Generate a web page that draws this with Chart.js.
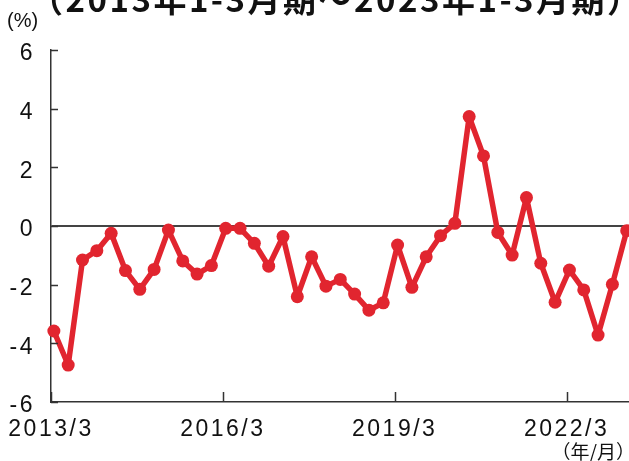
<!DOCTYPE html>
<html>
<head>
<meta charset="utf-8">
<script src="https://cdn.jsdelivr.net/npm/chart.js@4/dist/chart.umd.min.js"></script>
<style>
  body { margin: 0; background: #fff; }
  canvas { display: block; }
</style>
</head>
<body>
<canvas id="lineChart" width="629" height="461"></canvas>
<script>
// quarters 2013/3 .. 2023/3
var quarters = [];
for (var yr = 2013; yr <= 2023; yr++) {
    [3, 6, 9, 12].forEach(function (m) {
        if (quarters.length < 41) quarters.push(yr + '/' + m);
    });
}

var values = [
    -3.58, -4.74, -1.16, -0.84, -0.25, -1.52, -2.16, -1.48,
    -0.14, -1.19, -1.64, -1.35, -0.08, -0.08, -0.59, -1.37,
    -0.36, -2.41, -1.05, -2.05, -1.82, -2.32, -2.87, -2.62,
    -0.65, -2.09, -1.05, -0.33, 0.09, 3.73, 2.39, -0.22,
    -0.99, 0.97, -1.27, -2.60, -1.50, -2.18, -3.72, -1.99,
    -0.16
];

var xTickLabels = ['2013/3', '2016/3', '2019/3', '2022/3'];
var yTicks = [-6, -4, -2, 0, 2, 4, 6];

var titleText = '（2013年1-3月期～2023年1-3月期）';
var yUnit = '(%)';
var xUnit = '（年/月）';

var red = '#e1252f';
var axisColor = '#333';
var tickFont = { family: '"Liberation Sans", Arial, sans-serif', size: 23 };

var extras = {
    id: 'extras',
    beforeDraw: function (chart) {
        chart.ctx.letterSpacing = '2.5px';
    },
    afterDraw: function (chart) {
        var ctx = chart.ctx, xs = chart.scales.x, ys = chart.scales.y;
        ctx.save();
        ctx.letterSpacing = '0px';
        ctx.strokeStyle = axisColor;
        ctx.lineWidth = 1.5;
        ctx.beginPath();
        yTicks.forEach(function (v) {
            var py = Math.round(ys.getPixelForValue(v)) + 0.5;
            ctx.moveTo(xs.left, py);
            ctx.lineTo(xs.left + 7, py);
        });
        xTickLabels.forEach(function (l) {
            var px = Math.round(xs.getPixelForValue(quarters.indexOf(l) - 0.2)) + 0.5;
            ctx.moveTo(px, ys.bottom);
            ctx.lineTo(px, ys.bottom - 10);
        });
        ctx.stroke();

        ctx.fillStyle = '#111';
        ctx.textBaseline = 'alphabetic';
        ctx.textAlign = 'left';
        ctx.font = 'bold 33px "Noto Sans CJK JP", sans-serif';
        ctx.letterSpacing = '2.5px';
        ctx.fillText(titleText, 30, 12);

        ctx.letterSpacing = '0px';
        ctx.font = '20px "Liberation Sans", Arial, sans-serif';
        ctx.textBaseline = 'middle';
        ctx.fillText(yUnit, 7, 21);

        ctx.font = '19px "Noto Sans CJK JP", sans-serif';
        ctx.textAlign = 'right';
        ctx.fillText(xUnit, 635, 452);
        ctx.restore();
    }
};

var ctx = document.getElementById('lineChart').getContext('2d');

var lineChart = new Chart(ctx, {
    type: 'line',
    data: {
        datasets: [{
            data: values.map(function (v, i) { return { x: i, y: v }; }),
            borderColor: red,
            borderWidth: 5.5,
            borderJoinStyle: 'round',
            pointRadius: 6.5,
            pointBackgroundColor: red,
            pointBorderWidth: 0,
            tension: 0,
            clip: false
        }]
    },
    options: {
        responsive: false,
        animation: false,
        layout: { autoPadding: false, padding: { top: 50, right: 0, bottom: 0, left: 0 } },
        plugins: { legend: { display: false }, tooltip: { enabled: false } },
        scales: {
            x: {
                type: 'linear',
                min: -0.2,
                max: 40.16,
                afterBuildTicks: function (s) {
                    s.ticks = xTickLabels.map(function (l) {
                        return { value: quarters.indexOf(l) - 0.2 };
                    });
                },
                afterFit: function (s) {
                    s.height = 59;
                    s.paddingLeft = 0;
                    s.paddingRight = 0;
                },
                ticks: {
                    autoSkip: false,
                    maxRotation: 0,
                    padding: 14,
                    color: '#111',
                    font: tickFont,
                    callback: function (v) { return quarters[Math.round(v)]; }
                },
                grid: { display: false, drawTicks: false },
                border: { color: axisColor, width: 1.5 }
            },
            y: {
                min: -6,
                max: 6,
                afterBuildTicks: function (s) {
                    s.ticks = yTicks.map(function (v) { return { value: v }; });
                },
                afterFit: function (s) {
                    s.width = 51;
                    s.paddingTop = 0;
                    s.paddingBottom = 0;
                },
                ticks: { padding: 16, labelOffset: 4, color: '#111', font: tickFont },
                grid: {
                    drawTicks: false,
                    lineWidth: 2,
                    color: function (c) {
                        return c.tick && c.tick.value === 0 ? '#444' : 'rgba(0,0,0,0)';
                    }
                },
                border: { color: axisColor, width: 1.5 }
            }
        }
    },
    plugins: [extras]
});
</script>
</body>
</html>
